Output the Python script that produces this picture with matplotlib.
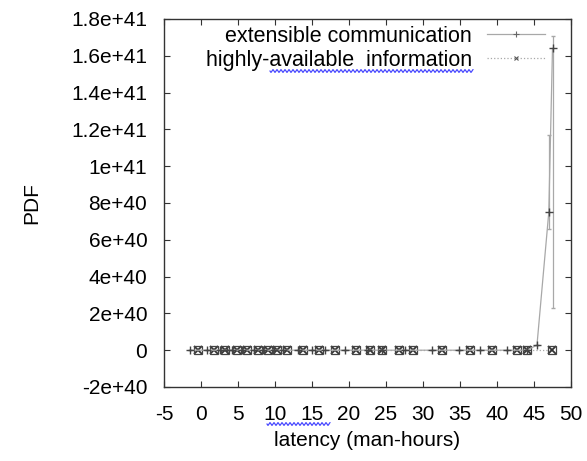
import numpy as np
import matplotlib
matplotlib.use("Agg")
import matplotlib.pyplot as plt
from matplotlib.lines import Line2D

plt.rcParams['font.family'] = ['Liberation Sans', 'DejaVu Sans']

# ---- data ----
s1_label = "extensible communication"
s2_label = "highly-available  information"
s1_x = [-1.5, 0.8, 2.6, 3.5, 4.2, 5.5, 7.1, 8.4, 9.8, 11.1, 13.1, 15.0, 16.8,
        19.5, 22.6, 24.4, 27.6, 31.2, 34.8, 37.7, 41.3, 44.0, 45.4, 47.0, 47.5]
s1_y = [0, 0, 0, 0, 0, 0, 0, 0, 0, 0, 0, 0, 0,
        0, 0, 0, 0, 0, 0, 0, 0, 0, 0.27e40, 7.5e40, 1.64e41]
s1_lo = [0, 0, 0, 0, 0, 0, 0, 0, 0, 0, 0, 0, 0,
         0, 0, 0, 0, 0, 0, 0, 0, 0, 0.27e40, 0.66e41, 0.23e41]
s1_hi = [0, 0, 0, 0, 0, 0, 0, 0, 0, 0, 0, 0, 0,
         0, 0, 0, 0, 0, 0, 0, 0, 0, 0.27e40, 1.17e41, 1.71e41]
s2_x = [-0.4, 1.7, 3.3, 4.8, 6.2, 7.7, 9.1, 10.3, 11.6, 13.8, 15.9, 18.1, 21.0,
        22.8, 24.4, 26.7, 28.7, 32.5, 36.4, 39.3, 42.7, 44.0, 47.4]
s2_y = [0] * len(s2_x)
x_ticks = [-5, 0, 5, 10, 15, 20, 25, 30, 35, 40, 45, 50]
y_ticks = [-2e40, 0, 2e40, 4e40, 6e40, 8e40, 1e41, 1.2e41, 1.4e41, 1.6e41, 1.8e41]
y_tick_labels = ["-2e+40", "0", "2e+40", "4e+40", "6e+40", "8e+40", "1e+41",
                 "1.2e+41", "1.4e+41", "1.6e+41", "1.8e+41"]

W, H = 587, 461
fig = plt.figure(figsize=(W / 100, H / 100), dpi=100)
L, R, T, B = 164, 571, 19, 387
ax = fig.add_axes([L / W, 1 - B / H, (R - L) / W, (B - T) / H])

y1 = np.array(s1_y)
s1_err = [y1 - np.array(s1_lo), np.array(s1_hi) - y1]

ax.errorbar(s1_x, s1_y, yerr=s1_err, color='#a8a8a8', lw=0.9, marker='+',
            mec='#444444', ms=5.5, mew=1.0, elinewidth=0.9, ecolor='#a8a8a8',
            capsize=1.5)
ax.plot(s2_x, s2_y, color='#a8a8a8', lw=0.9, ls=':', marker='x',
        mec='#333333', ms=5.5, mew=1.3)
# boxed look for series 2 markers
ax.plot(s2_x, s2_y, ls='none', marker='s', mfc='none', mec='#444444', ms=5.5, mew=0.9)

ax.set_xlim(-5, 50)
ax.set_ylim(-2e40, 1.8e41)
ax.set_xticks(x_ticks)
ax.set_xticklabels([str(v) for v in x_ticks])
ax.set_yticks(y_ticks)
ax.set_yticklabels(y_tick_labels)
ax.tick_params(direction='in', length=4, width=0.8, labelsize=15, colors='#333333',
               labelcolor='black', top=True, right=True)
ax.tick_params(axis='x', pad=13)
ax.tick_params(axis='y', pad=12)
for s in ax.spines.values():
    s.set_color('#333333')
    s.set_linewidth(1.0)

ax.set_xlabel("latency (man-hours)", fontsize=15, labelpad=5)
ax.set_ylabel("PDF", fontsize=15, labelpad=22)

h1 = Line2D([], [], color='#a8a8a8', lw=0.9, marker='+', mec='#666666', ms=4, mew=0.8)
h2 = Line2D([], [], color='#a8a8a8', lw=0.9, ls=':', marker='x', mec='#555555', ms=3.5, mew=0.8)
leg = ax.legend([h1, h2], [s1_label, s2_label], loc='upper right',
                bbox_to_anchor=(0.936, 0.981), frameon=False,
                fontsize=15.5, markerfirst=False, handlelength=2.7,
                handletextpad=0.7, labelspacing=0.12, borderaxespad=0.0,
                borderpad=0.0)
for t in leg.get_texts():
    t.set_ha('right')

# spell-check squiggles
def squiggle(x0, x1, y):
    xs = np.linspace(x0, x1, int((x1 - x0) * 4))
    ys = y + 1.3 * np.sin((xs - x0) * 2 * np.pi / 4.0)
    fig.add_artist(Line2D(xs / W, 1 - ys / H, transform=fig.transFigure,
                          color='#3a3aff', lw=0.8))

squiggle(267, 330, 424)
squiggle(270, 473, 71)

fig.savefig("out.png", dpi=100)
